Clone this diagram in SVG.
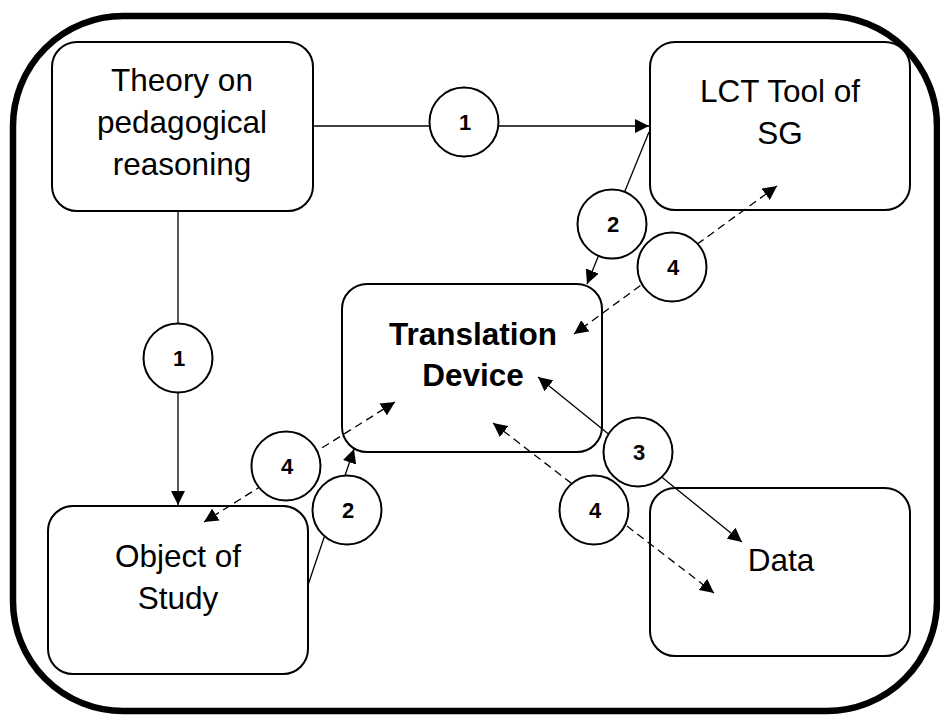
<svg xmlns="http://www.w3.org/2000/svg" width="940" height="715" viewBox="0 0 940 715">
<style>
.frame{fill:none;stroke:#000;stroke-width:6.5}
.box{fill:#fff;stroke:#000;stroke-width:2}
.lbl{font-family:"Liberation Sans",Arial,sans-serif;font-size:31.5px;fill:#000;text-anchor:middle}
.bold{font-weight:bold}
.c{stroke:#000;stroke-width:1.3;fill:none}
.d{stroke-dasharray:8 5}
.num circle{fill:#fff;stroke:#000;stroke-width:2}
.num text{font-family:"Liberation Sans",Arial,sans-serif;font-size:22px;font-weight:bold;text-anchor:middle;fill:#000}
</style>
<defs>
<marker id="ah" markerUnits="userSpaceOnUse" markerWidth="15" markerHeight="14" refX="14" refY="7" orient="auto-start-reverse">
<path d="M0,0 L14,7 L0,14 z" fill="#000"/>
</marker>
</defs>
<rect class="frame" x="13" y="16" width="924" height="695" rx="110" ry="110"/>
<g id="theory">
<rect class="box" x="52" y="42" width="261" height="169" rx="25"/>
<text class="lbl" x="182" y="91">Theory on</text>
<text class="lbl" x="182" y="133">pedagogical</text>
<text class="lbl" x="182" y="175">reasoning</text>
</g>
<g id="lct">
<rect class="box" x="650" y="42" width="260" height="168" rx="25"/>
<text class="lbl" x="780" y="102">LCT Tool of</text>
<text class="lbl" x="780" y="144">SG</text>
</g>
<g id="translation">
<rect class="box" x="342" y="284" width="260" height="168" rx="25"/>
<text class="lbl bold" x="473" y="345">Translation</text>
<text class="lbl bold" x="473" y="386">Device</text>
</g>
<g id="object">
<rect class="box" x="48" y="506" width="260" height="168" rx="25"/>
<text class="lbl" x="178" y="567">Object of</text>
<text class="lbl" x="178" y="609">Study</text>
</g>
<g id="data">
<rect class="box" x="650" y="488" width="260" height="168" rx="25"/>
<text class="lbl" x="781" y="571">Data</text>
</g>
<g id="connectors">
<line class="c" x1="313" y1="126" x2="649" y2="126" marker-end="url(#ah)"/>
<line class="c" x1="178" y1="211" x2="178" y2="505" marker-end="url(#ah)"/>
<line class="c" x1="649" y1="132" x2="587" y2="284" marker-end="url(#ah)"/>
<line class="c d" x1="777" y1="186" x2="574" y2="334" marker-start="url(#ah)" marker-end="url(#ah)"/>
<line class="c d" x1="395" y1="402" x2="204" y2="522" marker-start="url(#ah)" marker-end="url(#ah)"/>
<line class="c" x1="308" y1="585" x2="354" y2="449" marker-end="url(#ah)"/>
<line class="c" x1="538" y1="377" x2="742" y2="542" marker-start="url(#ah)" marker-end="url(#ah)"/>
<line class="c d" x1="493" y1="423" x2="714" y2="593" marker-start="url(#ah)" marker-end="url(#ah)"/>
<g class="num"><circle cx="464" cy="122" r="34.5"/><text x="465" y="130">1</text></g>
<g class="num"><circle cx="178" cy="358" r="34.5"/><text x="179" y="366">1</text></g>
<g class="num"><circle cx="612" cy="224" r="34.5"/><text x="613" y="232">2</text></g>
<g class="num"><circle cx="672" cy="267" r="34.5"/><text x="673" y="275">4</text></g>
<g class="num"><circle cx="286" cy="466" r="34.5"/><text x="287" y="474">4</text></g>
<g class="num"><circle cx="347" cy="510" r="34.5"/><text x="348" y="518">2</text></g>
<g class="num"><circle cx="638" cy="452" r="34.5"/><text x="639" y="460">3</text></g>
<g class="num"><circle cx="594" cy="510" r="34.5"/><text x="595" y="518">4</text></g>
</g>
</svg>
